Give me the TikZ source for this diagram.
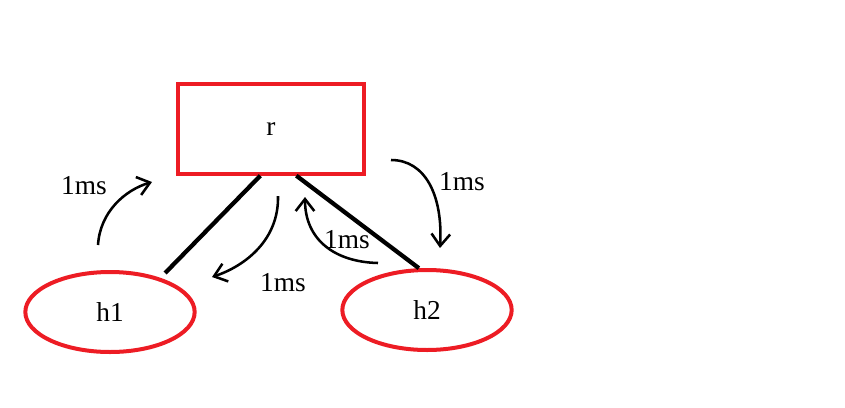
\documentclass[tikz,border=0pt]{standalone}
\usepackage{fontspec}
\setmainfont{Liberation Serif}
\usetikzlibrary{arrows.meta,shapes.geometric}
\definecolor{paintred}{RGB}{237,28,36}
\begin{document}
\begin{tikzpicture}[
                            x=0.75pt, y=-0.75pt,
                            >={Straight Barb[length=9pt,width=14pt,line width=1.9pt]},
                            font=\fontsize{20.5}{24}\selectfont,
                            host/.style={ellipse, draw=paintred, line width=3pt, minimum width=127pt, minimum height=60pt},
                            delay/.style={->, line width=1.9pt}
                        ]
                        \useasboundingbox (0,0) rectangle (845,407);
                        % Blocks
                        \node [rectangle, draw=paintred, line width=3pt, minimum height=67pt, minimum width=139pt] (r) at (271,129) {r};
                        \node [host] (h1) at (110,312) {h1};
                        \node [host] (h2) at (427,310) {h2};

                        % Links
                        \draw [line width=3.2pt] ([shift={(7,-4)}]h1.36) -- ([xshift=-8pt]r.south);
                        \draw [line width=3.2pt] ([xshift=19pt]r.south) -- (h2.101);

                        % Delays
                        \coordinate (a1) at (98,245);  \coordinate (b1) at (152,182);
                        \coordinate (a2) at (278,196); \coordinate (b2) at (212,277);
                        \coordinate (a3) at (378,263); \coordinate (b3) at (305,197);
                        \coordinate (a4) at (391,160); \coordinate (b4) at (440,248);
                        \draw [delay] (a1) .. controls (100,212) and (125,190) .. (b1);
                        \draw [delay] (a2) .. controls (279,240) and (245,266) .. (b2);
                        \draw [delay] (a3) .. controls (335,262) and (305,240) .. (b3);
                        \draw [delay] (a4) .. controls (425,160) and (443,195) .. (b4);
                        \node (t1) at (84,186) {1ms};
                        \node (t2) at (283,283) {1ms};
                        \node (t3) at (347,240) {1ms};
                        \node (t4) at (462,182) {1ms};
                    \end{tikzpicture}
\end{document}
